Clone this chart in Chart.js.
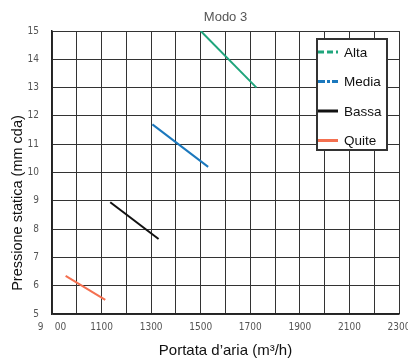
<!DOCTYPE html>
<html>
<head>
<meta charset="utf-8">
<script src="https://cdn.jsdelivr.net/npm/chart.js@4/dist/chart.umd.min.js"></script>
<style>
  html, body { margin: 0; padding: 0; background: #fff; }
  #wrap { width: 408px; height: 361px; }
</style>
</head>
<body>
<div id="wrap"><canvas id="c" width="408" height="361"></canvas></div>
<script>
// Fan curves for "Modo 3": air flow (m³/h) against static pressure (mm cda)
const seriesNames = ['Alta', 'Media', 'Bassa', 'Quite'];
const flowAlta = [1500, 1725];
const pressAlta = [15, 13];
const flowMedia = [1305, 1530];
const pressMedia = [11.7, 10.2];
const flowBassa = [1135, 1330];
const pressBassa = [8.95, 7.65];
const flowQuite = [955, 1115];
const pressQuite = [6.35, 5.5];
const xTickLabels = { 900: '9    00', 1100: '1100', 1300: '1300', 1500: '1500', 1700: '1700', 1900: '1900', 2100: '2100', 2300: '2300' };

const colors = ['#1fa57c', '#1b78bd', '#111111', '#f47050'];
const legendDash = [[6, 3], [7, 2, 3, 2], [], []];

function pts(xs, ys) { return xs.map((x, i) => ({ x: x, y: ys[i] })); }

const datasets = [
  pts(flowAlta, pressAlta),
  pts(flowMedia, pressMedia),
  pts(flowBassa, pressBassa),
  pts(flowQuite, pressQuite)
].map((d, i) => ({
  label: seriesNames[i],
  data: d,
  borderColor: colors[i],
  backgroundColor: colors[i],
  borderWidth: 2,
  pointRadius: 0,
  showLine: true,
  fill: false
}));

const FONT = '"Liberation Sans", Arial, Helvetica, sans-serif';
const NARROW = '"Liberation Sans Narrow", "DejaVu Sans Condensed", Arial, sans-serif';

// Boxed legend inside the plot area
const boxLegend = {
  id: 'boxLegend',
  afterDraw(chart) {
    const ctx = chart.ctx;
    const left = 317, top = 39, w = 70, h = 111;
    ctx.save();
    ctx.fillStyle = '#fff';
    ctx.fillRect(left, top, w, h);
    ctx.strokeStyle = '#333';
    ctx.lineWidth = 2;
    ctx.strokeRect(left, top, w, h);
    chart.data.datasets.forEach((ds, i) => {
      const y = 52 + i * 29.5;
      ctx.beginPath();
      ctx.setLineDash(legendDash[i]);
      ctx.strokeStyle = ds.borderColor;
      ctx.lineWidth = 3;
      ctx.moveTo(318, y);
      ctx.lineTo(338, y);
      ctx.stroke();
      ctx.setLineDash([]);
      ctx.fillStyle = '#111';
      ctx.font = '13.5px ' + FONT;
      ctx.textAlign = 'left';
      ctx.textBaseline = 'middle';
      ctx.fillText(ds.label, 344, y + 1);
    });
    ctx.restore();
  }
};

// Vertical axis caption
const yCaption = {
  id: 'yCaption',
  afterDraw(chart) {
    const ctx = chart.ctx;
    ctx.save();
    ctx.translate(18, 203);
    ctx.rotate(-Math.PI / 2);
    ctx.fillStyle = '#111';
    ctx.font = '14.5px ' + FONT;
    ctx.textAlign = 'center';
    ctx.textBaseline = 'middle';
    ctx.fillText('Pressione statica (mm cda)', 0, 0);
    ctx.restore();
  }
};

new Chart(document.getElementById('c'), {
  type: 'scatter',
  data: { datasets: datasets },
  options: {
    responsive: false,
    devicePixelRatio: 1,
    animation: false,
    layout: { padding: { left: 0, right: 9, top: 0, bottom: 0 } },
    plugins: {
      legend: { display: false },
      tooltip: { enabled: false },
      title: {
        display: true,
        fullSize: false,
        text: 'Modo 3',
        color: '#555',
        font: { family: FONT, size: 13, weight: 'normal' },
        padding: { top: 10, bottom: 5.4 }
      }
    },
    scales: {
      x: {
        type: 'linear',
        min: 900,
        max: 2300,
        afterFit(s) { s.height = 47; s.paddingLeft = 0; s.paddingRight = 0; },
        ticks: {
          stepSize: 100,
          autoSkip: false,
          maxRotation: 0,
          padding: 7,
          color: '#555',
          font: { family: NARROW, size: 10 },
          callback: v => (xTickLabels[v] !== undefined ? xTickLabels[v] : '')
        },
        grid: { color: '#333', lineWidth: 1, drawTicks: false },
        border: { display: true, color: '#222', width: 1.5 },
        title: {
          display: true,
          text: 'Portata d\u2019aria (m\u00b3/h)',
          color: '#111',
          font: { family: FONT, size: 15 },
          padding: { top: 0, bottom: 1 }
        }
      },
      y: {
        type: 'linear',
        min: 5,
        max: 15,
        afterFit(s) { s.width = 52; },
        ticks: {
          stepSize: 1,
          padding: 13,
          color: '#555',
          font: { family: NARROW, size: 10 }
        },
        grid: { color: '#333', lineWidth: 1, drawTicks: false },
        border: { display: true, color: '#222', width: 1.5 }
      }
    }
  },
  plugins: [boxLegend, yCaption]
});
</script>
</body>
</html>
